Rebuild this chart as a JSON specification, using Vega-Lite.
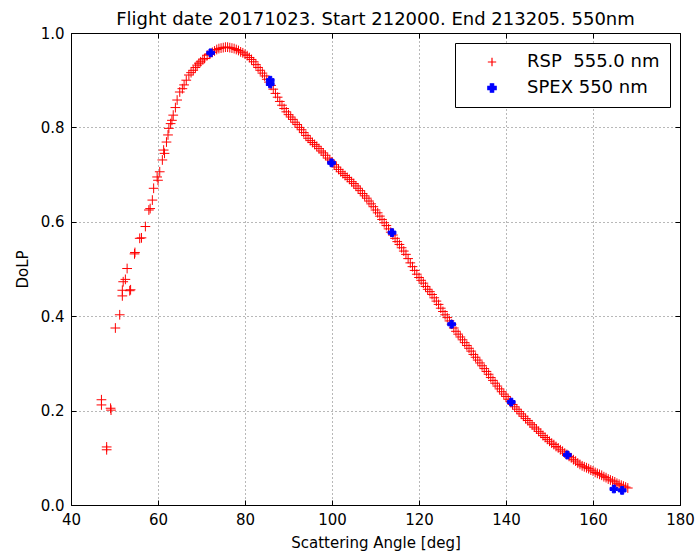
{
  "$schema": "https://vega.github.io/schema/vega-lite/v6.json",
  "width": 609,
  "height": 472,
  "autosize": {"type": "none"},
  "padding": {"left": 71, "top": 33, "right": 17, "bottom": 50},
  "background": "white",
  "title": {"text": "Flight date 20171023. Start 212000. End 213205. 550nm", "fontSize": 18, "font": "DejaVu Sans", "fontWeight": "normal", "color": "black", "offset": -3, "anchor": "middle"},
  "config": {
    "font": "DejaVu Sans",
    "view": {"stroke": "black", "strokeWidth": 1},
    "axis": {"labelFontSize": 15, "titleFontSize": 15, "labelColor": "black", "titleColor": "black", "titleFontWeight": "normal", "tickColor": "black", "domain": false, "gridColor": "black", "gridDash": [1, 3], "gridOpacity": 0.7, "gridWidth": 0.8, "tickSize": -5, "labelFont": "DejaVu Sans", "titleFont": "DejaVu Sans", "labelFlush": false, "labelOverlap": false},
    "legend": {"labelFontSize": 18, "labelFont": "DejaVu Sans", "labelColor": "black", "strokeColor": "black", "fillColor": "white", "padding": 10, "orient": "top-right", "offset": 10, "symbolSize": 70, "symbolStrokeWidth": 1.2, "rowPadding": 8, "symbolOffset": 18, "labelOffset": 26}
  },
  "resolve": {"axis": {"x": "independent", "y": "independent"}},
  "layer": [
    {
      "data": {"values": [
        {"a":47.0,"d":0.223},{"a":47.0,"d":0.212},{"a":48.2,"d":0.123},{"a":48.2,"d":0.117},{"a":49.1,"d":0.205},{"a":49.2,"d":0.201},{"a":50.2,"d":0.375},{"a":51.2,"d":0.403},{"a":51.8,"d":0.443},{"a":51.8,"d":0.455},{"a":52.0,"d":0.473},{"a":52.5,"d":0.478},{"a":52.9,"d":0.501},{"a":53.5,"d":0.454},{"a":53.7,"d":0.456},{"a":54.6,"d":0.532},{"a":54.7,"d":0.535},{"a":55.8,"d":0.565},{"a":56.2,"d":0.566},{"a":57.1,"d":0.59},{"a":57.9,"d":0.625},{"a":58.2,"d":0.628},{"a":58.7,"d":0.646},{"a":59.0,"d":0.671},{"a":59.8,"d":0.695},{"a":60.0,"d":0.688},{"a":60.4,"d":0.706},{"a":61.0,"d":0.731},{"a":61.3,"d":0.752},{"a":61.5,"d":0.745},{"a":61.95,"d":0.769},{"a":62.3,"d":0.784},{"a":62.5,"d":0.798},{"a":62.9,"d":0.808},{"a":63.2,"d":0.815},{"a":63.5,"d":0.826},{"a":64.0,"d":0.842},{"a":64.4,"d":0.858},{"a":65.0,"d":0.875},{"a":65.6,"d":0.882},{"a":66.0,"d":0.89},{"a":66.5,"d":0.9},{"a":67.1,"d":0.911},{"a":67.6,"d":0.916},{"a":68.1,"d":0.921},{"a":68.6,"d":0.927},{"a":69.0,"d":0.932},{"a":69.4,"d":0.936},{"a":69.8,"d":0.939},{"a":70.3,"d":0.943},{"a":70.7,"d":0.946},{"a":71.3,"d":0.953},{"a":71.8,"d":0.955},
        {"a":72,"d":0.956},{"a":72.5,"d":0.959},{"a":73,"d":0.962},{"a":73.5,"d":0.965},{"a":74,"d":0.967},{"a":74.5,"d":0.968},{"a":75,"d":0.969},{"a":75.5,"d":0.97},{"a":76,"d":0.97},{"a":76.5,"d":0.969},{"a":77,"d":0.968},{"a":77.5,"d":0.967},{"a":78,"d":0.965},{"a":78.5,"d":0.963},{"a":79,"d":0.96},{"a":79.5,"d":0.958},{"a":80,"d":0.955},{"a":80.5,"d":0.952},{"a":81,"d":0.948},{"a":81.5,"d":0.944},{"a":82,"d":0.939},{"a":82.5,"d":0.933},{"a":83,"d":0.927},{"a":83.5,"d":0.921},{"a":84,"d":0.915},{"a":84.5,"d":0.909},{"a":85,"d":0.902},{"a":85.5,"d":0.896},{"a":86,"d":0.889},{"a":86.5,"d":0.881},{"a":87,"d":0.872},{"a":87.5,"d":0.864},{"a":88,"d":0.855},{"a":88.5,"d":0.847},{"a":89,"d":0.84},{"a":89.5,"d":0.833},{"a":90,"d":0.827},{"a":90.5,"d":0.822},{"a":91,"d":0.817},{"a":91.5,"d":0.811},{"a":92,"d":0.806},{"a":92.5,"d":0.8},{"a":93,"d":0.795},{"a":93.5,"d":0.789},{"a":94,"d":0.783},{"a":94.5,"d":0.777},{"a":95,"d":0.772},{"a":95.5,"d":0.768},{"a":96,"d":0.764},{"a":96.5,"d":0.76},{"a":97,"d":0.755},{"a":97.5,"d":0.75},{"a":98,"d":0.746},{"a":98.5,"d":0.741},{"a":99,"d":0.735},{"a":99.5,"d":0.731},{"a":100,"d":0.727},{"a":100.5,"d":0.721},{"a":101,"d":0.716},{"a":101.5,"d":0.711},{"a":102,"d":0.706},{"a":102.5,"d":0.702},{"a":103,"d":0.698},{"a":103.5,"d":0.694},{"a":104,"d":0.69},{"a":104.5,"d":0.685},{"a":105,"d":0.681},{"a":105.5,"d":0.676},{"a":106,"d":0.671},{"a":106.5,"d":0.666},{"a":107,"d":0.66},{"a":107.5,"d":0.655},{"a":108,"d":0.65},{"a":108.5,"d":0.644},{"a":109,"d":0.638},{"a":109.5,"d":0.632},{"a":110,"d":0.625},{"a":110.5,"d":0.619},{"a":111,"d":0.612},{"a":111.5,"d":0.605},{"a":112,"d":0.598},{"a":112.5,"d":0.592},{"a":113,"d":0.585},{"a":113.5,"d":0.578},{"a":114,"d":0.572},{"a":114.5,"d":0.565},{"a":115,"d":0.558},{"a":115.5,"d":0.552},{"a":116,"d":0.545},{"a":116.5,"d":0.538},{"a":117,"d":0.531},{"a":117.5,"d":0.522},{"a":118,"d":0.513},{"a":118.5,"d":0.505},{"a":119,"d":0.497},{"a":119.5,"d":0.489},{"a":120,"d":0.482},{"a":120.5,"d":0.476},{"a":121,"d":0.47},{"a":121.5,"d":0.463},{"a":122,"d":0.457},{"a":122.5,"d":0.452},{"a":123,"d":0.446},{"a":123.5,"d":0.439},{"a":124,"d":0.432},{"a":124.5,"d":0.425},{"a":125,"d":0.417},{"a":125.5,"d":0.41},{"a":126,"d":0.403},{"a":126.5,"d":0.397},{"a":127,"d":0.39},{"a":127.5,"d":0.383},{"a":128,"d":0.375},{"a":128.5,"d":0.368},{"a":129,"d":0.362},{"a":129.5,"d":0.356},{"a":130,"d":0.35},{"a":130.5,"d":0.344},{"a":131,"d":0.338},{"a":131.5,"d":0.332},{"a":132,"d":0.326},{"a":132.5,"d":0.319},{"a":133,"d":0.313},{"a":133.5,"d":0.307},{"a":134,"d":0.301},{"a":134.5,"d":0.295},{"a":135,"d":0.289},{"a":135.5,"d":0.283},{"a":136,"d":0.277},{"a":136.5,"d":0.27},{"a":137,"d":0.264},{"a":137.5,"d":0.258},{"a":138,"d":0.252},{"a":138.5,"d":0.246},{"a":139,"d":0.24},{"a":139.5,"d":0.235},{"a":140,"d":0.23},{"a":140.5,"d":0.224},{"a":141,"d":0.219},{"a":141.5,"d":0.213},{"a":142,"d":0.208},{"a":142.5,"d":0.203},{"a":143,"d":0.198},{"a":143.5,"d":0.193},{"a":144,"d":0.188},{"a":144.5,"d":0.183},{"a":145,"d":0.179},{"a":145.5,"d":0.174},{"a":146,"d":0.17},{"a":146.5,"d":0.165},{"a":147,"d":0.161},{"a":147.5,"d":0.156},{"a":148,"d":0.152},{"a":148.5,"d":0.147},{"a":149,"d":0.143},{"a":149.5,"d":0.139},{"a":150,"d":0.135},{"a":150.5,"d":0.131},{"a":151,"d":0.128},{"a":151.5,"d":0.124},{"a":152,"d":0.121},{"a":152.5,"d":0.117},{"a":153,"d":0.114},{"a":153.5,"d":0.11},{"a":154,"d":0.107},{"a":154.5,"d":0.103},{"a":155,"d":0.1},{"a":155.5,"d":0.096},{"a":156,"d":0.093},{"a":156.5,"d":0.089},{"a":157,"d":0.086},{"a":157.5,"d":0.083},{"a":158,"d":0.081},{"a":158.5,"d":0.079},{"a":159,"d":0.077},{"a":159.5,"d":0.074},{"a":160,"d":0.072},{"a":160.5,"d":0.069},{"a":161,"d":0.067},{"a":161.5,"d":0.065},{"a":162,"d":0.063},{"a":162.5,"d":0.06},{"a":163,"d":0.058},{"a":163.5,"d":0.055},{"a":164,"d":0.053},{"a":164.5,"d":0.051},{"a":165,"d":0.049},{"a":165.5,"d":0.046},{"a":166,"d":0.044},{"a":166.5,"d":0.042},{"a":167,"d":0.04},{"a":167.5,"d":0.038},{"a":168,"d":0.036}
      ]},
      "mark": {"type": "point", "filled": true, "size": 95, "strokeWidth": 1, "opacity": 1},
      "encoding": {
        "x": {"field": "a", "type": "quantitative", "scale": {"domain": [40, 180], "nice": false, "zero": false}, "axis": {"title": "Scattering Angle [deg]", "values": [40, 60, 80, 100, 120, 140, 160, 180], "grid": true, "labelPadding": 12, "titlePadding": 8}},
        "y": {"field": "d", "type": "quantitative", "scale": {"domain": [0, 1], "nice": false}, "axis": {"title": "DoLP", "values": [0, 0.2, 0.4, 0.6, 0.8, 1.0], "format": ".1f", "grid": true, "labelPadding": 12, "titlePadding": 10}},
        "color": {"datum": "RSP\u00a0 555.0 nm", "type": "nominal", "scale": {"domain": ["RSP\u00a0 555.0 nm", "SPEX 550 nm"], "range": ["#ff0000", "#0000ff"]}, "title": null},
        "stroke": {"datum": "RSP\u00a0 555.0 nm", "type": "nominal", "scale": {"domain": ["RSP\u00a0 555.0 nm", "SPEX 550 nm"], "range": ["#ff0000", "#0000ff"]}, "title": null},
        "shape": {"datum": "RSP\u00a0 555.0 nm", "type": "nominal", "scale": {"domain": ["RSP\u00a0 555.0 nm", "SPEX 550 nm"], "range": ["M-1,0L1,0M0,-1L0,1", "cross"]}, "title": null}
      }
    },
    {
      "data": {"values": [
        {"a":72.1,"d":0.958},{"a":85.8,"d":0.9},{"a":85.8,"d":0.892},{"a":99.9,"d":0.725},{"a":113.8,"d":0.577},{"a":127.5,"d":0.383},{"a":141.2,"d":0.218},{"a":154.1,"d":0.106},{"a":164.8,"d":0.034},{"a":166.7,"d":0.031}
      ]},
      "mark": {"type": "point", "filled": true, "size": 60, "strokeWidth": 1, "opacity": 1},
      "encoding": {
        "x": {"field": "a", "type": "quantitative", "axis": {"orient": "top", "labels": false, "title": null, "grid": false, "values": [40, 60, 80, 100, 120, 140, 160, 180]}},
        "y": {"field": "d", "type": "quantitative", "axis": {"orient": "right", "labels": false, "title": null, "grid": false, "values": [0, 0.2, 0.4, 0.6, 0.8, 1.0]}},
        "color": {"datum": "SPEX 550 nm", "type": "nominal"},
        "stroke": {"datum": "SPEX 550 nm", "type": "nominal"},
        "shape": {"datum": "SPEX 550 nm", "type": "nominal"}
      }
    }
  ]
}
